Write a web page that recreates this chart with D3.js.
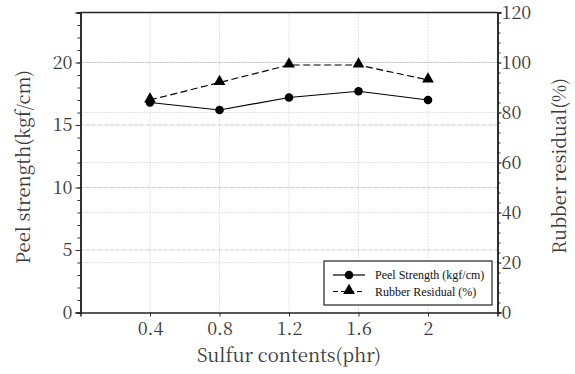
<!DOCTYPE html>
<html>
<head>
<meta charset="utf-8">
<script src="https://cdn.jsdelivr.net/npm/d3@7"></script>
<style>
  body { margin: 0; background: #fff; }
  svg { display: block; }
</style>
</head>
<body>
<svg id="chart" width="575" height="374"></svg>
<script>
'use strict';

var sulfur = [0.4, 0.8, 1.2, 1.6, 2];
var peelStrength = [16.8, 16.2, 17.2, 17.7, 17.0];
var rubberResidual = [85, 92, 99, 99, 93];
var xTickLabels = ['0.4', '0.8', '1.2', '1.6', '2'];
var leftTicks = [0, 5, 10, 15, 20];
var rightTicks = [0, 20, 40, 60, 80, 100, 120];

var margin = {left: 80.5, right: 77.5, top: 12.5, bottom: 61.5};
var width = 575, height = 374;
var svg = d3.select('#chart');
var labelFont = 'Noto Serif CJK KR';
var textColor = '#3a3a3a';

var x = d3.scaleLinear().domain([0, 2.4]).range([margin.left, width - margin.right]);
var yL = d3.scaleLinear().domain([0, 24]).range([height - margin.bottom, margin.top]);
var yR = d3.scaleLinear().domain([0, 120]).range([height - margin.bottom, margin.top]);

var gridColor = '#c4c4c4';
var grid = svg.append('g');
// vertical grid
grid.selectAll('line.vx').data(sulfur).enter().append('line')
  .attr('x1', function(d) { return x(d); }).attr('x2', function(d) { return x(d); })
  .attr('y1', yL(0)).attr('y2', yL(24))
  .attr('stroke', gridColor).attr('stroke-width', 1).attr('stroke-dasharray', '1,2');
// horizontal grid, left axis
grid.selectAll('line.hl').data(leftTicks.slice(1)).enter().append('line')
  .attr('x1', x(0)).attr('x2', x(2.4))
  .attr('y1', function(d) { return yL(d); }).attr('y2', function(d) { return yL(d); })
  .attr('stroke', gridColor).attr('stroke-width', 1).attr('stroke-dasharray', '3,1,1,1');
// horizontal grid, right axis
grid.selectAll('line.hr').data(rightTicks.slice(1, -1)).enter().append('line')
  .attr('x1', x(0)).attr('x2', x(2.4))
  .attr('y1', function(d) { return yR(d); }).attr('y2', function(d) { return yR(d); })
  .attr('stroke', gridColor).attr('stroke-width', 1).attr('stroke-dasharray', '1,2');

// axes
var xAxis = d3.axisBottom(x).tickValues(sulfur).tickFormat(function(d, i) { return xTickLabels[i]; })
  .tickSize(4).tickPadding(6);
svg.append('g').attr('transform', 'translate(0,' + yL(0) + ')').call(xAxis);

var leftMinor = d3.range(0, 25, 1);
svg.append('g').attr('transform', 'translate(' + x(0) + ',0)')
  .call(d3.axisLeft(yL).tickValues(leftMinor).tickFormat('').tickSize(3));
svg.append('g').attr('transform', 'translate(' + x(0) + ',0)')
  .call(d3.axisLeft(yL).tickValues(leftTicks).tickSize(5).tickPadding(3));

var rightMinor = d3.range(0, 121, 4);
svg.append('g').attr('transform', 'translate(' + x(2.4) + ',0)')
  .call(d3.axisRight(yR).tickValues(rightMinor).tickFormat('').tickSize(3));
svg.append('g').attr('transform', 'translate(' + x(2.4) + ',0)')
  .call(d3.axisRight(yR).tickValues(rightTicks).tickSize(4).tickPadding(0));

svg.selectAll('.domain').attr('stroke', '#222').attr('stroke-width', 1.5);
svg.selectAll('.tick line').attr('stroke', '#333');
svg.selectAll('.tick text')
  .attr('font-family', labelFont).attr('font-size', 18).attr('fill', textColor);

// top spine
svg.append('line').attr('x1', x(0)).attr('x2', x(2.4)).attr('y1', yL(24)).attr('y2', yL(24))
  .attr('stroke', '#222').attr('stroke-width', 1.5);

// series
var linePeel = d3.line().x(function(d, i) { return x(sulfur[i]); }).y(function(d) { return yL(d); });
var lineRes = d3.line().x(function(d, i) { return x(sulfur[i]); }).y(function(d) { return yR(d); });

svg.append('path').datum(peelStrength).attr('d', linePeel)
  .attr('fill', 'none').attr('stroke', '#000').attr('stroke-width', 1.2);
svg.append('path').datum(rubberResidual).attr('d', lineRes)
  .attr('fill', 'none').attr('stroke', '#000').attr('stroke-width', 1.2).attr('stroke-dasharray', '7,3.5');

var tri = d3.symbol().type(d3.symbolTriangle).size(60);
svg.selectAll('path.tri').data(rubberResidual).enter().append('path')
  .attr('d', tri)
  .attr('transform', function(d, i) { return 'translate(' + x(sulfur[i]) + ',' + (yR(d) - 1) + ')'; })
  .attr('fill', '#000');
svg.selectAll('circle.pt').data(peelStrength).enter().append('circle')
  .attr('cx', function(d, i) { return x(sulfur[i]); })
  .attr('cy', function(d) { return yL(d); })
  .attr('r', 4.3).attr('fill', '#000');

// axis titles
function title(t) {
  return t.attr('text-anchor', 'middle').attr('font-family', labelFont).attr('font-size', 18.5)
    .attr('fill', textColor);
}
title(svg.append('text').attr('x', 289).attr('y', 362)).text('Sulfur contents(phr)');
title(svg.append('text').attr('transform', 'translate(30,167) rotate(-90)')).text('Peel strength(kgf/cm)');
title(svg.append('text').attr('transform', 'translate(566,166) rotate(-90)')).text('Rubber residual(%)');

// legend
var legend = svg.append('g').attr('transform', 'translate(324,261)');
legend.append('rect').attr('width', 168).attr('height', 44)
  .attr('fill', '#fff').attr('stroke', '#222').attr('stroke-width', 1.2);
var legendItems = ['Peel Strength (kgf/cm)', 'Rubber Residual (%)'];
legendItems.forEach(function(label, i) {
  var yy = 14 + i * 16.5;
  legend.append('line').attr('x1', 9).attr('x2', 41).attr('y1', yy).attr('y2', yy)
    .attr('stroke', '#000').attr('stroke-width', 1.2).attr('stroke-dasharray', i === 0 ? null : '5,3');
  if (i === 0) {
    legend.append('circle').attr('cx', 25).attr('cy', yy).attr('r', 4.3).attr('fill', '#000');
  } else {
    legend.append('path').attr('d', tri).attr('transform', 'translate(25,' + (yy - 1) + ')').attr('fill', '#000');
  }
  legend.append('text').attr('x', 51).attr('y', yy + 4)
    .attr('font-family', 'Liberation Serif').attr('font-size', 12).attr('fill', '#111')
    .text(label);
});
</script>
</body>
</html>
